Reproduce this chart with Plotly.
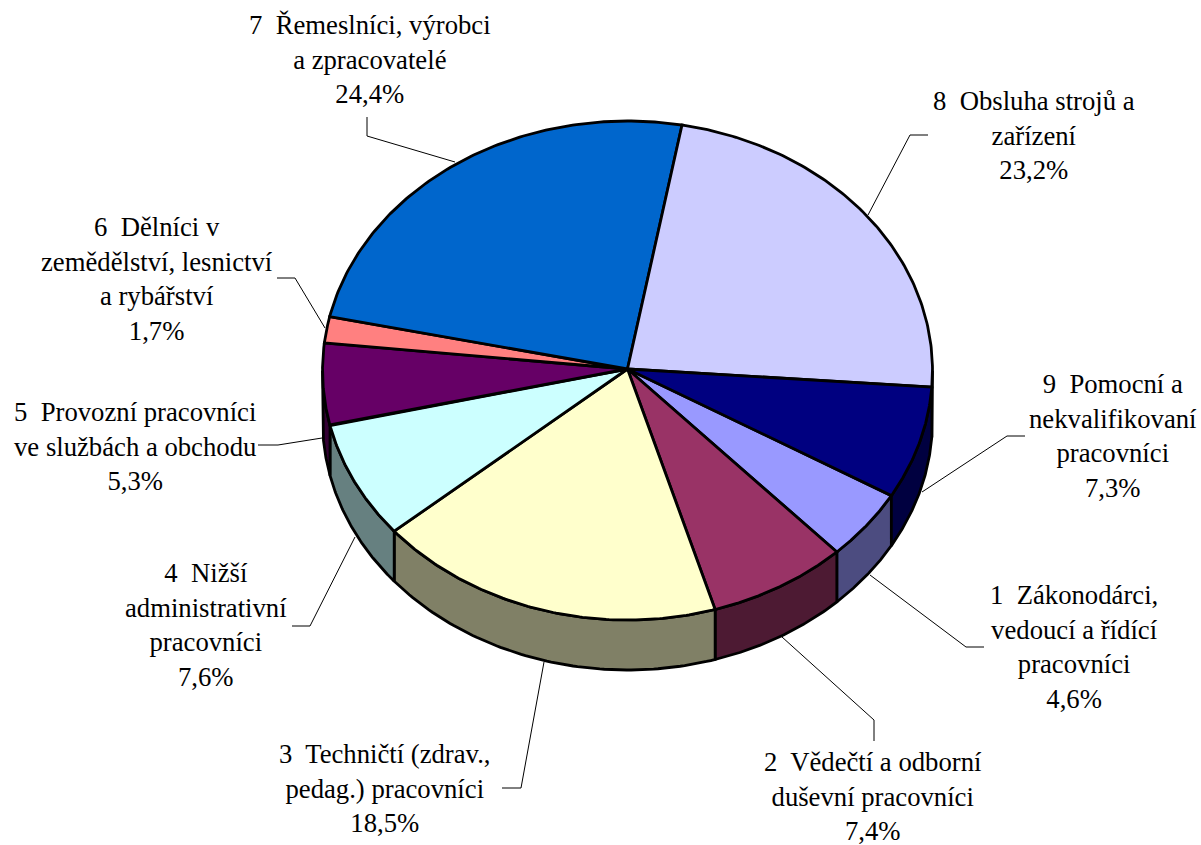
import numpy as np
import plotly.graph_objects as go

categories = [
    "1  Zákonodárci,<br>vedoucí a řídící<br>pracovníci",
    "2  Vědečtí a odborní<br>duševní pracovníci",
    "3  Techničtí (zdrav.,<br>pedag.) pracovníci",
    "4  Nižší<br>administrativní<br>pracovníci",
    "5  Provozní pracovníci<br>ve službách a obchodu",
    "6  Dělníci v<br>zemědělství, lesnictví<br>a rybářství",
    "7  Řemeslníci, výrobci<br>a zpracovatelé",
    "8  Obsluha strojů a<br>zařízení",
    "9  Pomocní a<br>nekvalifikovaní<br>pracovníci",
]
values = [4.6, 7.4, 18.5, 7.6, 5.3, 1.7, 24.4, 23.2, 7.3]
value_labels = ["4,6%", "7,4%", "18,5%", "7,6%", "5,3%", "1,7%", "24,4%", "23,2%", "7,3%"]
top_colors = ["#9999FF", "#993366", "#FFFFCC", "#CCFFFF", "#660066", "#FF8080", "#0066CC", "#CCCCFF", "#000080"]
side_colors = ["#4C4C80", "#4D1A33", "#808066", "#668080", "#330033", "#804040", "#003366", "#666680", "#000040"]

# label centre positions (page px)
label_pos = [(1073.5, 647), (873, 796), (385, 788), (206, 625), (135, 446), (157, 279), (369.5, 59), (1034, 135), (1113, 436)]
# leader lines (page px)
leaders = [
    ([870, 966, 984], [575, 647, 647]),
    ([782, 874, 874], [637, 720, 741]),
    ([544, 521, 502], [662, 788, 788]),
    ([355, 310, 292], [537, 626, 626]),
    ([322, 278, 258], [438, 445, 445]),
    ([325, 295, 277], [328, 278, 278]),
    ([455, 367, 367], [162, 136, 117]),
    ([868, 910, 928], [215, 135, 135]),
    ([922, 1007, 1025], [492, 436, 436]),
]

CX, CY, RX, RY, DEPTH = 627.5, 370.5, 305.0, 249.5, 50.0
START = 120.1


def pt(a, dy=0.0):
    r = np.radians(a)
    return CX + RX * np.sin(r), CY - RY * np.cos(r) + dy


fig = go.Figure()
edges = START + np.concatenate([[0], np.cumsum(values)]) * 360.0 / sum(values)
line = dict(color="black", width=2.8)

# side walls: only the front half (90..270 deg clockwise from 12 o'clock)
for shift in (0, 360):
    for i in range(len(values)):
        a0, a1 = max(edges[i] - shift, 90.0), min(edges[i + 1] - shift, 270.0)
        if a1 <= a0:
            continue
        a = np.linspace(a0, a1, 80)
        x1, y1 = pt(a)
        x2, y2 = pt(a[::-1], DEPTH)
        fig.add_trace(go.Scatter(x=np.r_[x1, x2, x1[0]], y=np.r_[y1, y2, y1[0]], mode="lines",
                                 fill="toself", fillcolor=side_colors[i], line=line, hoverinfo="skip"))

# top faces
for i in range(len(values)):
    a = np.linspace(edges[i], edges[i + 1], 120)
    x, y = pt(a)
    fig.add_trace(go.Scatter(x=np.r_[CX, x, CX], y=np.r_[CY - 1.5, y, CY - 1.5], mode="lines",
                             fill="toself", fillcolor=top_colors[i], line=line, hoverinfo="skip"))

for lx, ly in leaders:
    fig.add_trace(go.Scatter(x=lx, y=ly, mode="lines", line=dict(color="black", width=1), hoverinfo="skip"))

for c, v, (x, y) in zip(categories, value_labels, label_pos):
    fig.add_annotation(x=x, y=y, xref="x", yref="y", text=c + "<br>" + v, showarrow=False,
                       align="center", xanchor="center", yanchor="middle",
                       font=dict(family="Liberation Serif", size=26.7, color="black"))

fig.update_layout(
    width=1201, height=845, margin=dict(l=0, r=0, t=0, b=0), showlegend=False,
    paper_bgcolor="white", plot_bgcolor="white",
    xaxis=dict(range=[0, 1201], visible=False, fixedrange=True),
    yaxis=dict(range=[845, 0], visible=False, fixedrange=True),
)
fig.write_html("out.html", config={"displayModeBar": False},
               post_script="document.body.style.margin='0';")
